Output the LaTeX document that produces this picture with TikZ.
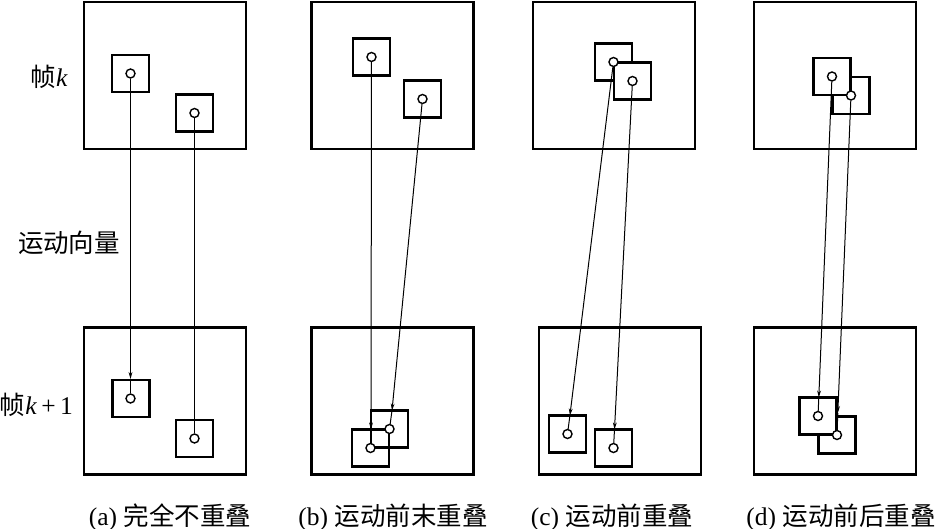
\documentclass[tikz,border=0pt]{standalone}
\usepackage{fontspec}
\setmainfont{Liberation Serif}
\newfontfamily\cjk{Noto Sans CJK SC}
\usetikzlibrary{arrows.meta}
\tikzset{
  frame/.style={draw, line width=2.6pt, minimum width=162pt, minimum height=147pt, inner sep=0pt},
  blk/.style={draw, line width=2.1pt, minimum size=37pt, inner sep=0pt, fill=white},
  blkopen/.style={draw, line width=2.1pt, minimum size=37pt, inner sep=0pt},
  ctr/.style={draw, circle, line width=1.4pt, minimum size=9pt, inner sep=0pt, fill=white},
  mv/.style={line width=1pt},
  mvtip/.style={line width=1pt, -{Stealth[length=7pt,width=3.8pt]}},
  lbl/.style={inner sep=0pt, font=\fontsize{25.5}{28}\selectfont},
}
\begin{document}
\begin{tikzpicture}[x=1pt,y=-1pt]
\useasboundingbox[fill=white] (0,0) rectangle (938,529);
% frames
\node[frame] (fat) at (165,75.5) {};
\node[frame] (fab) at (165,401) {};
\node[frame] (fbt) at (392.5,75.5) {};
\node[frame] (fbb) at (392.5,401) {};
\node[frame] (fct) at (614,75.5) {};
\node[frame] (fcb) at (620,401) {};
\node[frame] (fdt) at (835,75.5) {};
\node[frame] (fdb) at (835,401) {};
% (a)
\node[blk] (sa1t) at (130.5,73.5) {};
\node[blk] (sa2t) at (194.5,113) {};
\node[blk] (sa1b) at (131,398.5) {};
\node[blk] (sa2b) at (194.5,438.5) {};
\coordinate (ta1) at (130.5,379);
\node[ctr] (ca1t) at (130.5,73.5) {};
\node[ctr] (ca2t) at (194.5,113) {};
\node[ctr] (ca1b) at (130.5,398.5) {};
\node[ctr] (ca2b) at (194.5,438.5) {};
\draw[mvtip] (ca1t) -- (ta1);
\draw[mv] (ta1) -- (ca1b);
\draw[mv] (ca2t) -- (ca2b);
% (b)
\node[blk] (sb1t) at (371.5,57) {};
\node[blk] (sb2t) at (422.5,99) {};
\node[blkopen] (sb1b) at (370.5,448) {};
\node[blkopen] (sb2b) at (389.5,429) {};
\coordinate (tb1) at (371,429.5);
\coordinate (tb2) at (392,410.5);
\node[ctr] (cb1t) at (371.5,57) {};
\node[ctr] (cb2t) at (422.5,99) {};
\draw[mvtip] (cb1t) -- (tb1);
\draw[mvtip] (cb2t) -- (tb2);
\node[ctr] (cb1b) at (370.5,448) {};
\node[ctr] (cb2b) at (389.5,429) {};
\draw[mv] (tb1) -- (cb1b);
\draw[mv] (tb2) -- (cb2b);
% (c)
\node[blk] (sc1t) at (613.5,62) {};
\node[blk] (sc2t) at (632.5,81) {};
\node[blk] (sc1b) at (567.5,434) {};
\node[blk] (sc2b) at (613.5,448) {};
\coordinate (tc1) at (569.9,415.5);
\coordinate (tc2) at (614.5,429.5);
\node[ctr] (cc2t) at (632.5,81) {};
\node[ctr] (cc1t) at (613.5,62) {};
\draw[mvtip] (cc1t) -- (tc1);
\draw[mvtip] (cc2t) -- (tc2);
\node[ctr] (cc1b) at (567.5,434) {};
\node[ctr] (cc2b) at (613.5,448) {};
\draw[mv] (tc1) -- (cc1b);
\draw[mv] (tc2) -- (cc2b);
% (d)
\node[blk] (sd2t) at (851,95.5) {};
\node[blk] (sd1t) at (832,76.5) {};
\node[blk] (sd2b) at (837,435) {};
\node[blk] (sd1b) at (818,416) {};
\coordinate (td1) at (818.8,397.5);
\coordinate (td2) at (837.8,413);
\node[ctr] (cd1t) at (832,76.5) {};
\node[ctr] (cd2t) at (851,95.5) {};
\draw[mvtip] (cd1t) -- (td1);
\draw[mvtip] (cd2t) -- (td2);
\node[ctr] (cd1b) at (818,416) {};
\node[ctr] (cd2b) at (837,435) {};
\draw[mv] (td1) -- (cd1b);
\draw[mv] (td2) -- (cd2b);
% labels
\node[lbl, anchor=east] (lk) at (68,77) {{\cjk 帧}\textit{k}};
\node[lbl, anchor=east] (lk1) at (73,405) {{\cjk 帧}\textit{k}\,+\,1};
\node[lbl] (lmv) at (69,243) {\cjk 运动向量};
\node[lbl] (capa) at (170,517) {(a) {\cjk 完全不重叠}};
\node[lbl] (capb) at (393,517) {(b) {\cjk 运动前末重叠}};
\node[lbl] (capc) at (612,517) {(c) {\cjk 运动前重叠}};
\node[lbl] (capd) at (841,517) {(d) {\cjk 运动前后重叠}};
\end{tikzpicture}
\end{document}
